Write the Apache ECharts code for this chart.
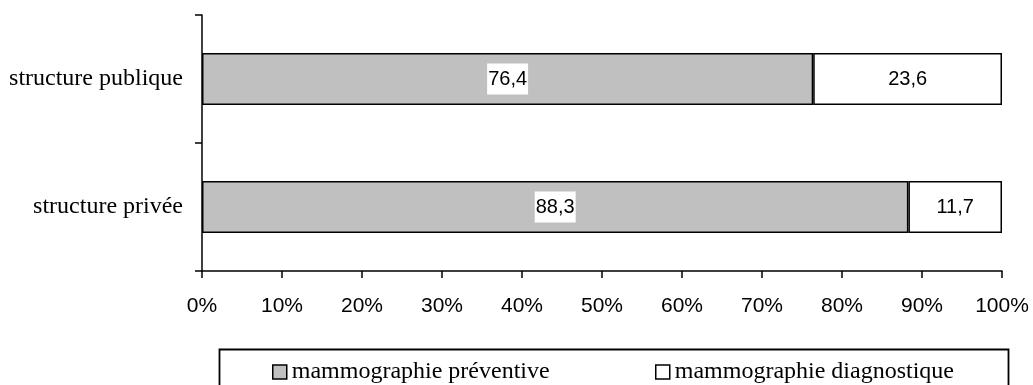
<!DOCTYPE html>
<html>
<head>
<meta charset="utf-8">
<script src="https://cdn.jsdelivr.net/npm/echarts@6/dist/echarts.min.js"></script>
<style>
  html, body { margin: 0; padding: 0; background: #fff; }
  #chart { width: 1033px; height: 385px; }
</style>
</head>
<body>
<div id="chart"></div>
<script>
// Types de structure (axe vertical)
const categories = ['structure publique', 'structure privée'];
// Part de chaque type de mammographie, en %
const preventive = [76.4, 88.3];
const diagnostic = [23.6, 11.7];
const seriesNames = ['mammographie préventive', 'mammographie diagnostique'];

const serif = '"Liberation Serif", "Times New Roman", serif';
const sans = '"Liberation Sans", Arial, sans-serif';

const fmtComma = (v) => String(v).replace('.', ',');

const labelStyle = {
  show: true,
  position: 'inside',
  color: '#000',
  fontFamily: sans,
  fontSize: 20,
  backgroundColor: '#fff',
  padding: [6, 1, 5, 1],
  formatter: (p) => fmtComma(p.value)
};

const legendBase = {
  top: 360,
  padding: 0,
  itemWidth: 14,
  itemHeight: 14,
  itemGap: 0,
  icon: 'rect',
  itemStyle: { borderColor: '#000', borderWidth: 1.5 },
  textStyle: { color: '#000', fontFamily: serif, fontSize: 24 }
};

const chart = echarts.init(document.getElementById('chart'), null, { renderer: 'canvas' });

chart.setOption({
  animation: false,
  backgroundColor: '#fff',
  grid: { left: 202, right: 31, top: 15, bottom: 114, containLabel: false },
  xAxis: {
    type: 'value',
    min: 0,
    max: 100,
    interval: 10,
    axisLine: { show: true, lineStyle: { color: '#000', width: 1.5 } },
    axisTick: { show: true, length: 7, lineStyle: { color: '#000', width: 1.5 } },
    splitLine: { show: false },
    axisLabel: {
      color: '#000',
      fontFamily: sans,
      fontSize: 21,
      margin: 25,
      formatter: '{value}%'
    }
  },
  yAxis: {
    type: 'category',
    data: categories,
    inverse: true,
    axisLine: { show: true, lineStyle: { color: '#000', width: 1.5 } },
    axisTick: { show: true, length: 7, lineStyle: { color: '#000', width: 1.5 } },
    axisLabel: {
      color: '#000',
      fontFamily: serif,
      fontSize: 24,
      margin: 19
    }
  },
  legend: [
    Object.assign({}, legendBase, { data: [seriesNames[0]], left: 272 }),
    Object.assign({}, legendBase, { data: [seriesNames[1]], left: 655 })
  ],
  graphic: [
    {
      type: 'rect',
      left: 217,
      top: 347,
      shape: { width: 789, height: 60 },
      style: { fill: 'none', stroke: '#000', lineWidth: 1.8 },
      silent: true,
      z: 0
    }
  ],
  series: [
    {
      name: seriesNames[0],
      type: 'bar',
      stack: 'total',
      data: preventive,
      barWidth: 52,
      itemStyle: { color: '#c0c0c0', borderColor: '#000', borderWidth: 1.5 },
      label: labelStyle
    },
    {
      name: seriesNames[1],
      type: 'bar',
      stack: 'total',
      data: diagnostic,
      barWidth: 52,
      itemStyle: { color: '#fff', borderColor: '#000', borderWidth: 1.5 },
      label: labelStyle
    }
  ]
});
</script>
</body>
</html>
